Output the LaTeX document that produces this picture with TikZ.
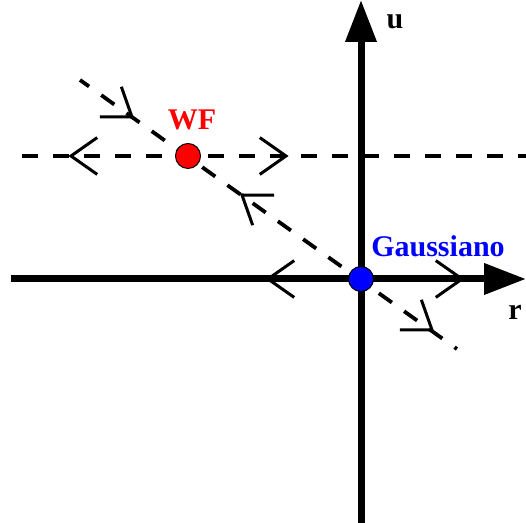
\documentclass[tikz,border=0pt]{standalone}
\usepackage{fontspec}
\setmainfont{Liberation Serif}
\usetikzlibrary{arrows.meta}

\begin{document}
\begin{tikzpicture}[
  x=0.5pt, y=0.5pt,
  axis/.style={line width=3.5pt, -{Triangle[length=21pt, width=15pt]}},
  flowline/.style={line width=1.9pt, dash pattern=on 8pt off 7.5pt},
  chev/.style={line width=1.5pt},
  fixpt/.style={circle, draw=black, line width=0.5pt, minimum size=12.5pt, inner sep=0pt},
  lab/.style={font=\bfseries\fontsize{15}{18}\selectfont},
  flow/.pic={\draw[chev] (-13.1pt,9.2pt) -- (0,0) -- (-13.1pt,-9.2pt);},
]

\useasboundingbox (0,0) rectangle (526,523);

% punti fissi
\coordinate (G) at (361,244);
\coordinate (W) at (188,367);

% estremi degli assi e delle linee di flusso
\coordinate (rL) at (11,244);
\coordinate (rR) at (526,244);
\coordinate (uB) at (361,0);
\coordinate (uT) at (361,523);
\coordinate (hL) at (22,367);
\coordinate (hR) at (526,367);
\coordinate (dA) at (80,443);
\coordinate (dB) at (457,174);

% linee di flusso tratteggiate
\draw[flowline] (hL) -- (hR);
\draw[flowline, dash phase=6.5pt] (dB) -- (dA);

% assi r, u
\draw[axis] (rL) -- (rR);
\draw[axis] (uB) -- (uT);
\node[lab] (rlab) at (515,211) {r};
\node[lab] (ulab) at (395,501) {u};

% frecce del flusso
\pic at (71,367) [rotate=180] {flow};
\pic at (286,367) {flow};
\pic at (268,244) [rotate=180] {flow};
\pic at (462,244) {flow};
\pic at (132,406) [rotate=-35.5] {flow};
\pic at (242,328) [rotate=144.5] {flow};
\pic at (432,193) [rotate=-35.5] {flow};

% WF e Gaussiano
\node[fixpt, fill=red] (wf) at (W) {};
\node[fixpt, fill=blue] (gauss) at (G) {};
\node[lab, text=red] (wflab) at (192,403) {WF};
\node[lab, text=blue] (glab) at (438,277) {Gaussiano};

\end{tikzpicture}
\end{document}
